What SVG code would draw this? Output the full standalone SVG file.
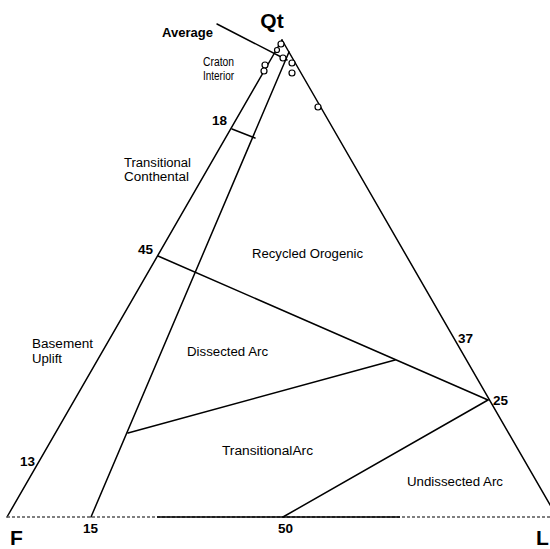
<svg xmlns="http://www.w3.org/2000/svg" width="550" height="549" viewBox="0 0 550 549">
<style>
.ln{stroke:#000;stroke-width:1.5;fill:none;stroke-linecap:round}
.pt{stroke:#000;stroke-width:1.2;fill:#fff}
.lbl{font-family:"Liberation Sans",Arial,sans-serif;font-size:12px;fill:#000}
.num{font-family:"Liberation Sans",Arial,sans-serif;font-size:13.5px;font-weight:bold;fill:#000}
.big{font-family:"Liberation Sans",Arial,sans-serif;font-size:21px;font-weight:bold;fill:#000}
</style>
<rect width="550" height="549" fill="#fff"/>
<g id="frame">
<line class="ln" x1="7" y1="517" x2="282" y2="40"/>
<line class="ln" x1="282" y1="40" x2="557" y2="517"/>
<line x1="7" y1="517" x2="550" y2="517" stroke="#555" stroke-width="1.3" stroke-dasharray="3 2"/>
<line x1="157" y1="517" x2="400" y2="517" stroke="#000" stroke-width="1.5"/>
</g>
<g id="boundaries">
<line class="ln" x1="91" y1="517" x2="289" y2="52"/>
<line class="ln" x1="232" y1="129" x2="255" y2="138"/>
<line class="ln" x1="158" y1="256" x2="488" y2="400"/>
<line class="ln" x1="128" y1="433" x2="395" y2="360"/>
<line class="ln" x1="488" y1="400" x2="283" y2="517"/>
<line class="ln" x1="217" y1="24" x2="287" y2="60"/>
</g>
<g id="points">
<circle class="pt" cx="281" cy="44" r="3"/>
<circle class="pt" cx="277" cy="50" r="2.5"/>
<circle class="pt" cx="283" cy="58" r="3"/>
<circle class="pt" cx="265" cy="65" r="3"/>
<circle class="pt" cx="264" cy="71" r="3"/>
<circle class="pt" cx="292" cy="63" r="3"/>
<circle class="pt" cx="292" cy="73" r="3"/>
<circle class="pt" cx="318" cy="107" r="3"/>
</g>
<g id="vertex-labels">
<text class="big" x="272" y="28" text-anchor="middle">Qt</text>
<text class="big" x="10" y="545">F</text>
<text class="big" x="536" y="545">L</text>
</g>
<g id="numbers">
<text class="num" x="212" y="125">18</text>
<text class="num" x="138" y="254">45</text>
<text class="num" x="458" y="343">37</text>
<text class="num" x="493" y="405">25</text>
<text class="num" x="20" y="466">13</text>
<text class="num" x="83" y="533">15</text>
<text class="num" x="278" y="533">50</text>
</g>
<g id="fields">
<text class="num" x="162" y="37" font-size="11" textLength="51" lengthAdjust="spacingAndGlyphs">Average</text>
<text class="lbl" x="203" y="66" textLength="31" lengthAdjust="spacingAndGlyphs">Craton</text>
<text class="lbl" x="203" y="80" textLength="31" lengthAdjust="spacingAndGlyphs">Interior</text>
<text class="lbl" x="124" y="167" textLength="67" lengthAdjust="spacingAndGlyphs">Transitional</text>
<text class="lbl" x="124" y="181" textLength="65" lengthAdjust="spacingAndGlyphs">Conthental</text>
<text class="lbl" x="252" y="258" textLength="111" lengthAdjust="spacingAndGlyphs">Recycled Orogenic</text>
<text class="lbl" x="32" y="348" textLength="61" lengthAdjust="spacingAndGlyphs">Basement</text>
<text class="lbl" x="32" y="363" textLength="30" lengthAdjust="spacingAndGlyphs">Uplift</text>
<text class="lbl" x="187" y="356" textLength="81" lengthAdjust="spacingAndGlyphs">Dissected Arc</text>
<text class="lbl" x="222" y="455" textLength="91" lengthAdjust="spacingAndGlyphs">TransitionalArc</text>
<text class="lbl" x="407" y="486" textLength="96" lengthAdjust="spacingAndGlyphs">Undissected Arc</text>
</g>
</svg>
